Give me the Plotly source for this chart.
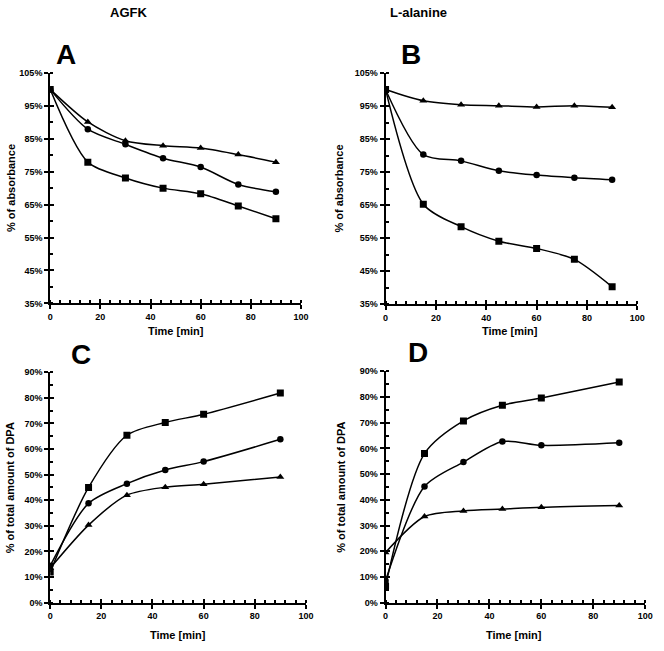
import plotly.graph_objects as go

# ---- data ----
time_abs = [0, 15, 30, 45, 60, 75, 90]
time_dpa = [0, 15, 30, 45, 60, 90]

A_square = [100, 77.9, 73.1, 70.0, 68.3, 64.6, 60.7]
A_circle = [100, 87.9, 83.3, 79.1, 76.4, 71.1, 68.9]
A_triangle = [100, 90.1, 84.4, 82.9, 82.2, 80.2, 77.9]

B_square = [100, 65.3, 58.5, 54.1, 51.9, 48.6, 40.3]
B_circle = [100, 80.3, 78.4, 75.4, 74.1, 73.3, 72.7]
B_triangle = [100, 96.6, 95.4, 95.1, 94.7, 95.1, 94.6]

C_square = [12.0, 45.0, 65.4, 70.4, 73.6, 81.9]
C_circle = [14.4, 38.8, 46.5, 51.8, 55.1, 63.8]
C_triangle = [13.5, 30.3, 42.0, 45.1, 46.3, 49.1]

D_square = [6.5, 58.0, 70.7, 76.8, 79.6, 85.8]
D_circle = [8.5, 45.2, 54.7, 62.7, 61.2, 62.2]
D_triangle = [19.5, 33.5, 35.7, 36.4, 37.1, 37.8]

abs_ticks = [35, 45, 55, 65, 75, 85, 95, 105]
abs_labels = ["35%", "45%", "55%", "65%", "75%", "85%", "95%", "105%"]
dpa_ticks = [0, 10, 20, 30, 40, 50, 60, 70, 80, 90]
dpa_labels = ["0%", "10%", "20%", "30%", "40%", "50%", "60%", "70%", "80%", "90%"]
x_ticks = [0, 20, 40, 60, 80, 100]

FONT = "Liberation Sans"

fig = go.Figure()

panels = [
    ("x", "y", time_abs, [A_square, A_circle, A_triangle]),
    ("x2", "y2", time_abs, [B_square, B_circle, B_triangle]),
    ("x3", "y3", time_dpa, [C_square, C_circle, C_triangle]),
    ("x4", "y4", time_dpa, [D_square, D_circle, D_triangle]),
]
symbols = ["square", "circle", "triangle-up"]
for xa, ya, t, series in panels:
    for s, sym in zip(series, symbols):
        fig.add_trace(go.Scatter(
            x=t, y=s, xaxis=xa, yaxis=ya, mode="lines+markers",
            line=dict(color="black", width=1.5, shape="spline", smoothing=0.8),
            marker=dict(symbol=sym, size=7 if sym != "circle" else 6.5, color="black"),
            showlegend=False, hoverinfo="skip"))

def xaxis(domain, anchor):
    return dict(domain=domain, anchor=anchor, range=[0, 100], tickvals=x_ticks,
                ticktext=[str(v) for v in x_ticks],
                showline=True, linecolor="black", linewidth=2, showgrid=False, zeroline=False,
                ticks="outside", ticklen=4, tickwidth=2, tickcolor="black",
                minor=dict(dtick=4, ticks="inside", ticklen=3, tickwidth=1.5, tickcolor="black", showgrid=False),
                tickfont=dict(family=FONT, size=9, color="black", weight="bold"))

def yaxis(domain, anchor, rng, ticks, labels):
    return dict(domain=domain, anchor=anchor, range=rng, tickvals=ticks, ticktext=labels,
                showline=True, linecolor="black", linewidth=2, showgrid=False, zeroline=False,
                ticks="outside", ticklen=4, tickwidth=2, tickcolor="black",
                minor=dict(dtick=5, tick0=0, ticks="inside", ticklen=3, tickwidth=1.5, tickcolor="black", showgrid=False),
                tickfont=dict(family=FONT, size=9, color="black", weight="bold"))

def x_inner(over, anchor):
    return dict(overlaying=over, anchor=anchor, range=[0, 100], tickvals=x_ticks,
                showticklabels=False, showline=False, showgrid=False, zeroline=False,
                ticks="inside", ticklen=4, tickwidth=2, tickcolor="black")

def y_inner(over, anchor, rng, ticks):
    return dict(overlaying=over, anchor=anchor, range=rng, tickvals=ticks,
                showticklabels=False, showline=False, showgrid=False, zeroline=False,
                ticks="inside", ticklen=4, tickwidth=2, tickcolor="black")

W, H = 664, 651
def px(v): return v / W
def py(v): return 1 - v / H

fig.update_layout(
    width=W, height=H, margin=dict(l=0, r=0, t=0, b=0),
    paper_bgcolor="white", plot_bgcolor="white",
    xaxis=xaxis([px(48), px(303)], "y"),
    yaxis=yaxis([py(303), py(69)], "x", [35, 105], abs_ticks, abs_labels),
    xaxis2=xaxis([px(389), px(645)], "y2"),
    yaxis2=yaxis([py(304), py(69)], "x2", [35, 105], abs_ticks, abs_labels),
    xaxis3=xaxis([px(48), px(308)], "y3"),
    yaxis3=yaxis([py(607), py(373)], "x3", [0, 90], dpa_ticks, dpa_labels),
    xaxis4=xaxis([px(389), px(653)], "y4"),
    yaxis4=yaxis([py(607), py(372)], "x4", [0, 90], dpa_ticks, dpa_labels),
    xaxis5=x_inner("x", "y"),
    yaxis5=y_inner("y", "x", [35, 105], abs_ticks),
    xaxis6=x_inner("x2", "y2"),
    yaxis6=y_inner("y2", "x2", [35, 105], abs_ticks),
    xaxis7=x_inner("x3", "y3"),
    yaxis7=y_inner("y3", "x3", [0, 90], dpa_ticks),
    xaxis8=x_inner("x4", "y4"),
    yaxis8=y_inner("y4", "x4", [0, 90], dpa_ticks),
)
for i in range(5, 9):
    fig.add_trace(go.Scatter(x=[None], y=[None], xaxis=f"x{i}", yaxis=f"y{i}",
                             mode="markers", showlegend=False, hoverinfo="skip"))

def ann(text, x, y, size, angle=0):
    fig.add_annotation(text=text, x=px(x), y=py(y), xref="paper", yref="paper",
                       showarrow=False, xanchor="center", yanchor="middle", textangle=angle,
                       font=dict(family=FONT, size=size, color="black", weight="bold"))

ann("AGFK", 128, 8, 13)
ann("L-alanine", 422, 8, 13)
ann("A", 64, 50, 28)
ann("B", 415, 50, 28)
ann("C", 79, 355, 28)
ann("D", 422, 353, 28)
ann("Time [min]", 176, 331, 11)
ann("Time [min]", 516, 331, 11)
ann("Time [min]", 178, 640, 11)
ann("Time [min]", 520, 640, 11)
ann("% of absorbance", 8, 186, 11, -90)
ann("% of absorbance", 342, 186, 11, -90)
ann("% of total amount of DPA", 8, 490, 11, -90)
ann("% of total amount of DPA", 344, 490, 11, -90)

fig.write_html("out.html", config={"displayModeBar": False},
               post_script="document.body.style.margin='0';document.body.style.overflow='hidden';")
